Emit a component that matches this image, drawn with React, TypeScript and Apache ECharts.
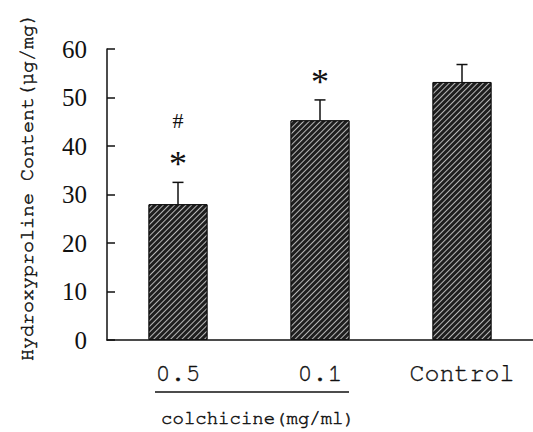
import React, { useEffect, useRef } from "react";
import * as echarts from "echarts";

const categories = ["0.5", "0.1", "Control"];
const means = [28.0, 45.3, 53.2];
const errors = [4.5, 4.2, 3.6];
const starMarks = ["*", "*", ""];
const hashMarks = ["#", "", ""];
const yTicks = [0, 10, 20, 30, 40, 50, 60];
const yAxisTitle = "Hydroxyproline Content(μg/mg)";
const groupLabel = "colchicine(mg/ml)";

const MONO = "FreeMono, 'Nimbus Mono PS', 'Liberation Mono', monospace";
const SERIF = "'Liberation Serif', 'Times New Roman', serif";

export default function App() {
  const ref = useRef<HTMLDivElement>(null);
  useEffect(() => {
    if (!ref.current) return;
    const chart = echarts.init(ref.current, null, { renderer: "svg" });
    const errData = means.map((m, i) => [i, m, errors[i]]);
    chart.setOption({
      animation: false,
      backgroundColor: "#fff",
      grid: { left: 107, right: -9, top: 49, bottom: 92, containLabel: false },
      xAxis: {
        type: "category",
        data: categories,
        axisLine: { lineStyle: { color: "#111", width: 1.5 } },
        axisTick: { inside: true, length: 10, lineStyle: { color: "#111", width: 1.5 } },
        axisLabel: {
          margin: 21,
          color: "#111",
          fontFamily: MONO,
          fontSize: 25,
          textBorderColor: "#111",
          textBorderWidth: 0.35,
        },
      },
      yAxis: {
        type: "value",
        min: yTicks[0],
        max: yTicks[yTicks.length - 1],
        interval: 10,
        splitLine: { show: false },
        axisLine: { show: true, lineStyle: { color: "#111", width: 1.5 } },
        axisTick: { show: true, inside: true, length: 8, lineStyle: { color: "#111", width: 1.5 } },
        axisLabel: {
          margin: 20,
          color: "#111",
          fontFamily: SERIF,
          fontSize: 25,
        },
      },
      graphic: [
        {
          type: "text",
          x: 27,
          y: 187,
          rotation: Math.PI / 2,
          style: {
            text: yAxisTitle,
            fontFamily: MONO,
            fontSize: 20,
            fill: "#111",
            stroke: "#111",
            lineWidth: 0.5,
            align: "center",
            verticalAlign: "middle",
          },
        },
        {
          type: "line",
          shape: { x1: 155, y1: 392, x2: 349, y2: 392 },
          style: { stroke: "#111", lineWidth: 1.5 },
        },
        {
          type: "text",
          x: 258,
          y: 418,
          style: {
            text: groupLabel,
            fontFamily: MONO,
            fontSize: 19,
            fill: "#111",
            stroke: "#111",
            lineWidth: 0.5,
            align: "center",
            verticalAlign: "middle",
          },
        },
      ],
      series: [
        {
          type: "bar",
          data: means,
          barWidth: 59,
          itemStyle: {
            color: "#1e1e1e",
            borderColor: "#111",
            borderWidth: 1,
            decal: {
              symbol: "rect",
              symbolSize: 1,
              dashArrayX: [1, 0],
              dashArrayY: [0.9, 2.1],
              rotation: -Math.PI / 4,
              color: "rgba(200,200,200,0.9)",
            },
          },
          z: 2,
        },
        {
          type: "custom",
          data: errData,
          z: 3,
          renderItem: (params: any, api: any) => {
            const i = api.value(0);
            const m = api.value(1);
            const e = api.value(2);
            const base = api.coord([i, m]);
            const top = api.coord([i, m + e]);
            const x = base[0];
            const children: any[] = [
              {
                type: "line",
                shape: { x1: x, y1: base[1], x2: x, y2: top[1] },
                style: { stroke: "#111", lineWidth: 1.5 },
              },
              {
                type: "line",
                shape: { x1: x - 5.5, y1: top[1], x2: x + 5.5, y2: top[1] },
                style: { stroke: "#111", lineWidth: 1.5 },
              },
            ];
            const idx = params.dataIndex;
            if (starMarks[idx]) {
              children.push({
                type: "text",
                x: x,
                y: top[1] - 18,
                style: {
                  text: starMarks[idx],
                  fontFamily: SERIF,
                  fontSize: 36,
                  fill: "#111",
                  align: "center",
                  verticalAlign: "middle",
                },
              });
            }
            if (hashMarks[idx]) {
              children.push({
                type: "text",
                x: x,
                y: top[1] - 62,
                style: {
                  text: hashMarks[idx],
                  fontFamily: SERIF,
                  fontSize: 22,
                  fill: "#111",
                  align: "center",
                  verticalAlign: "middle",
                },
              });
            }
            return { type: "group", children };
          },
        },
      ],
    });
    return () => chart.dispose();
  }, []);
  return (
    <div
      ref={ref}
      style={{ position: "absolute", left: 0, top: 0, width: 533, height: 432 }}
    />
  );
}
